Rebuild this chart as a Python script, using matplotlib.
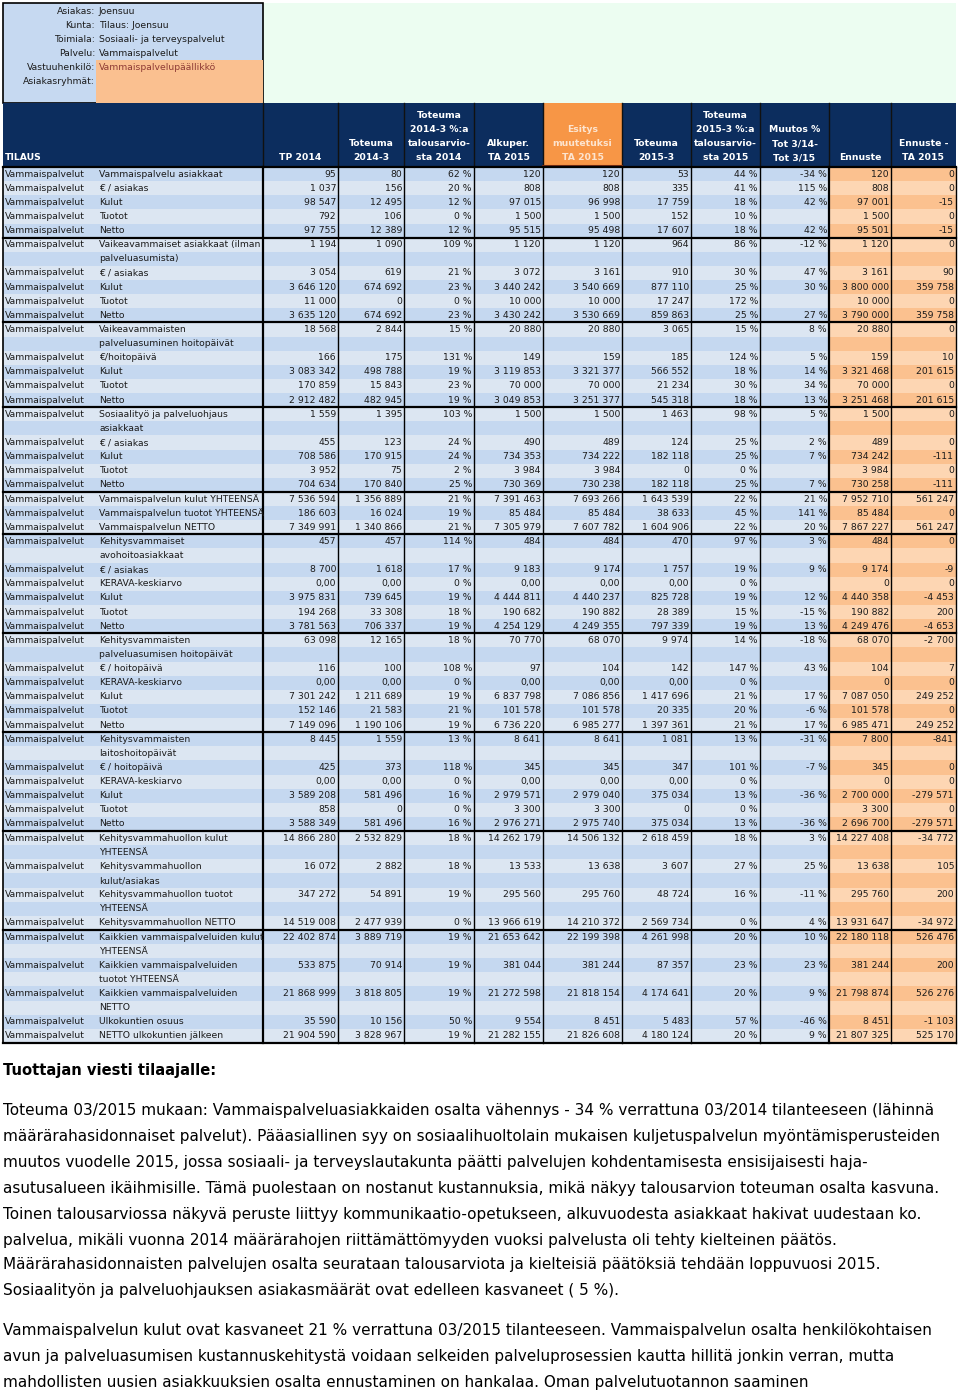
import matplotlib
matplotlib.use("Agg")
import matplotlib.pyplot as plt
from matplotlib.patches import Rectangle

plt.rcParams['font.family'] = ['DejaVu Sans']

# ---- header info ----
info_labels = ["Asiakas:", "Kunta:", "Toimiala:", "Palvelu:", "Vastuuhenkilö:", "Asiakasryhmät:"]
info_values = ["Joensuu", "Tilaus: Joensuu", "Sosiaali- ja terveyspalvelut", "Vammaispalvelut",
               "Vammaispalvelupäällikkö", ""]

col_headers = [
    "TP 2014",
    "Toteuma\n2014-3",
    "Toteuma\n2014-3 %:a\ntalousarvio-\nsta 2014",
    "Alkuper.\nTA 2015",
    "Esitys\nmuutetuksi\nTA 2015",
    "Toteuma\n2015-3",
    "Toteuma\n2015-3 %:a\ntalousarvio-\nsta 2015",
    "Muutos %\nTot 3/14-\nTot 3/15",
    "Ennuste",
    "Ennuste -\nTA 2015",
]

# ---- table data ----
names = [
    "Vammaispalvelu asiakkaat", "€ / asiakas", "Kulut", "Tuotot", "Netto",
    "Vaikeavammaiset asiakkaat (ilman\npalveluasumista)", "€ / asiakas", "Kulut", "Tuotot", "Netto",
    "Vaikeavammaisten\npalveluasuminen hoitopäivät", "€/hoitopäivä", "Kulut", "Tuotot", "Netto",
    "Sosiaalityö ja palveluohjaus\nasiakkaat", "€ / asiakas", "Kulut", "Tuotot", "Netto",
    "Vammaispalvelun kulut YHTEENSÄ", "Vammaispalvelun tuotot YHTEENSÄ", "Vammaispalvelun NETTO",
    "Kehitysvammaiset\navohoitoasiakkaat", "€ / asiakas", "KERAVA-keskiarvo", "Kulut", "Tuotot", "Netto",
    "Kehitysvammaisten\npalveluasumisen hoitopäivät", "€ / hoitopäivä", "KERAVA-keskiarvo", "Kulut", "Tuotot", "Netto",
    "Kehitysvammaisten\nlaitoshoitopäivät", "€ / hoitopäivä", "KERAVA-keskiarvo", "Kulut", "Tuotot", "Netto",
    "Kehitysvammahuollon kulut\nYHTEENSÄ", "Kehitysvammahuollon\nkulut/asiakas",
    "Kehitysvammahuollon tuotot\nYHTEENSÄ", "Kehitysvammahuollon NETTO",
    "Kaikkien vammaispalveluiden kulut\nYHTEENSÄ", "Kaikkien vammaispalveluiden\ntuotot YHTEENSÄ",
    "Kaikkien vammaispalveluiden\nNETTO", "Ulkokuntien osuus", "NETTO ulkokuntien jälkeen",
]
group_sizes = [5, 5, 5, 5, 3, 6, 6, 6, 4, 5]

tp2014 = ["95", "1 037", "98 547", "792", "97 755",
          "1 194", "3 054", "3 646 120", "11 000", "3 635 120",
          "18 568", "166", "3 083 342", "170 859", "2 912 482",
          "1 559", "455", "708 586", "3 952", "704 634",
          "7 536 594", "186 603", "7 349 991",
          "457", "8 700", "0,00", "3 975 831", "194 268", "3 781 563",
          "63 098", "116", "0,00", "7 301 242", "152 146", "7 149 096",
          "8 445", "425", "0,00", "3 589 208", "858", "3 588 349",
          "14 866 280", "16 072", "347 272", "14 519 008",
          "22 402 874", "533 875", "21 868 999", "35 590", "21 904 590"]
tot2014 = ["80", "156", "12 495", "106", "12 389",
           "1 090", "619", "674 692", "0", "674 692",
           "2 844", "175", "498 788", "15 843", "482 945",
           "1 395", "123", "170 915", "75", "170 840",
           "1 356 889", "16 024", "1 340 866",
           "457", "1 618", "0,00", "739 645", "33 308", "706 337",
           "12 165", "100", "0,00", "1 211 689", "21 583", "1 190 106",
           "1 559", "373", "0,00", "581 496", "0", "581 496",
           "2 532 829", "2 882", "54 891", "2 477 939",
           "3 889 719", "70 914", "3 818 805", "10 156", "3 828 967"]
pct2014 = ["62 %", "20 %", "12 %", "0 %", "12 %",
           "109 %", "21 %", "23 %", "0 %", "23 %",
           "15 %", "131 %", "19 %", "23 %", "19 %",
           "103 %", "24 %", "24 %", "2 %", "25 %",
           "21 %", "19 %", "21 %",
           "114 %", "17 %", "0 %", "19 %", "18 %", "19 %",
           "18 %", "108 %", "0 %", "19 %", "21 %", "19 %",
           "13 %", "118 %", "0 %", "16 %", "0 %", "16 %",
           "18 %", "18 %", "19 %", "0 %",
           "19 %", "19 %", "19 %", "50 %", "19 %"]
alk2015 = ["120", "808", "97 015", "1 500", "95 515",
           "1 120", "3 072", "3 440 242", "10 000", "3 430 242",
           "20 880", "149", "3 119 853", "70 000", "3 049 853",
           "1 500", "490", "734 353", "3 984", "730 369",
           "7 391 463", "85 484", "7 305 979",
           "484", "9 183", "0,00", "4 444 811", "190 682", "4 254 129",
           "70 770", "97", "0,00", "6 837 798", "101 578", "6 736 220",
           "8 641", "345", "0,00", "2 979 571", "3 300", "2 976 271",
           "14 262 179", "13 533", "295 560", "13 966 619",
           "21 653 642", "381 044", "21 272 598", "9 554", "21 282 155"]
esi2015 = ["120", "808", "96 998", "1 500", "95 498",
           "1 120", "3 161", "3 540 669", "10 000", "3 530 669",
           "20 880", "159", "3 321 377", "70 000", "3 251 377",
           "1 500", "489", "734 222", "3 984", "730 238",
           "7 693 266", "85 484", "7 607 782",
           "484", "9 174", "0,00", "4 440 237", "190 882", "4 249 355",
           "68 070", "104", "0,00", "7 086 856", "101 578", "6 985 277",
           "8 641", "345", "0,00", "2 979 040", "3 300", "2 975 740",
           "14 506 132", "13 638", "295 760", "14 210 372",
           "22 199 398", "381 244", "21 818 154", "8 451", "21 826 608"]
tot2015 = ["53", "335", "17 759", "152", "17 607",
           "964", "910", "877 110", "17 247", "859 863",
           "3 065", "185", "566 552", "21 234", "545 318",
           "1 463", "124", "182 118", "0", "182 118",
           "1 643 539", "38 633", "1 604 906",
           "470", "1 757", "0,00", "825 728", "28 389", "797 339",
           "9 974", "142", "0,00", "1 417 696", "20 335", "1 397 361",
           "1 081", "347", "0,00", "375 034", "0", "375 034",
           "2 618 459", "3 607", "48 724", "2 569 734",
           "4 261 998", "87 357", "4 174 641", "5 483", "4 180 124"]
pct2015 = ["44 %", "41 %", "18 %", "10 %", "18 %",
           "86 %", "30 %", "25 %", "172 %", "25 %",
           "15 %", "124 %", "18 %", "30 %", "18 %",
           "98 %", "25 %", "25 %", "0 %", "25 %",
           "22 %", "45 %", "22 %",
           "97 %", "19 %", "0 %", "19 %", "15 %", "19 %",
           "14 %", "147 %", "0 %", "21 %", "20 %", "21 %",
           "13 %", "101 %", "0 %", "13 %", "0 %", "13 %",
           "18 %", "27 %", "16 %", "0 %",
           "20 %", "23 %", "20 %", "57 %", "20 %"]
muutos = ["-34 %", "115 %", "42 %", "", "42 %",
          "-12 %", "47 %", "30 %", "", "27 %",
          "8 %", "5 %", "14 %", "34 %", "13 %",
          "5 %", "2 %", "7 %", "", "7 %",
          "21 %", "141 %", "20 %",
          "3 %", "9 %", "", "12 %", "-15 %", "13 %",
          "-18 %", "43 %", "", "17 %", "-6 %", "17 %",
          "-31 %", "-7 %", "", "-36 %", "", "-36 %",
          "3 %", "25 %", "-11 %", "4 %",
          "10 %", "23 %", "9 %", "-46 %", "9 %"]
ennuste = ["120", "808", "97 001", "1 500", "95 501",
           "1 120", "3 161", "3 800 000", "10 000", "3 790 000",
           "20 880", "159", "3 321 468", "70 000", "3 251 468",
           "1 500", "489", "734 242", "3 984", "730 258",
           "7 952 710", "85 484", "7 867 227",
           "484", "9 174", "0", "4 440 358", "190 882", "4 249 476",
           "68 070", "104", "0", "7 087 050", "101 578", "6 985 471",
           "7 800", "345", "0", "2 700 000", "3 300", "2 696 700",
           "14 227 408", "13 638", "295 760", "13 931 647",
           "22 180 118", "381 244", "21 798 874", "8 451", "21 807 325"]
ennuste_ta = ["0", "0", "-15", "0", "-15",
              "0", "90", "359 758", "0", "359 758",
              "0", "10", "201 615", "0", "201 615",
              "0", "0", "-111", "0", "-111",
              "561 247", "0", "561 247",
              "0", "-9", "0", "-4 453", "200", "-4 653",
              "-2 700", "7", "0", "249 252", "0", "249 252",
              "-841", "0", "0", "-279 571", "0", "-279 571",
              "-34 772", "105", "200", "-34 972",
              "526 476", "200", "526 276", "-1 103", "525 170"]

message_title = "Tuottajan viesti tilaajalle:"
message_lines = [
    "Toteuma 03/2015 mukaan: Vammaispalveluasiakkaiden osalta vähennys - 34 % verrattuna 03/2014 tilanteeseen (lähinnä",
    "määrärahasidonnaiset palvelut). Pääasiallinen syy on sosiaalihuoltolain mukaisen kuljetuspalvelun myöntämisperusteiden",
    "muutos vuodelle 2015, jossa sosiaali- ja terveyslautakunta päätti palvelujen kohdentamisesta ensisijaisesti haja-",
    "asutusalueen ikäihmisille. Tämä puolestaan on nostanut kustannuksia, mikä näkyy talousarvion toteuman osalta kasvuna.",
    "Toinen talousarviossa näkyvä peruste liittyy kommunikaatio-opetukseen, alkuvuodesta asiakkaat hakivat uudestaan ko.",
    "palvelua, mikäli vuonna 2014 määrärahojen riittämättömyyden vuoksi palvelusta oli tehty kielteinen päätös.",
    "Määrärahasidonnaisten palvelujen osalta seurataan talousarviota ja kielteisiä päätöksiä tehdään loppuvuosi 2015.",
    "Sosiaalityön ja palveluohjauksen asiakasmäärät ovat edelleen kasvaneet ( 5 %).",
    "",
    "Vammaispalvelun kulut ovat kasvaneet 21 % verrattuna 03/2015 tilanteeseen. Vammaispalvelun osalta henkilökohtaisen",
    "avun ja palveluasumisen kustannuskehitystä voidaan selkeiden palveluprosessien kautta hillitä jonkin verran, mutta",
    "mahdollisten uusien asiakkuuksien osalta ennustaminen on hankalaa. Oman palvelutuotannon saaminen",
]

# ---- layout / style ----
edges = [3, 263, 338, 404, 474, 543, 622, 691, 760, 829, 891, 956]
navy = "#0c2d5e"
blue_a, blue_b = "#c5d8f0", "#dce6f2"
org_a, org_b = "#fbc18f", "#fdd6b3"
txt = "#1b1b1b"
fs = 6.7

fig = plt.figure(figsize=(9.6, 13.92), dpi=100)
ax = fig.add_axes([0, 0, 1, 1])
ax.set_xlim(0, 960)
ax.set_ylim(1392, 0)
ax.axis("off")

# info box
ax.add_patch(Rectangle((263, 3), 693, 100, color="#ecfdf1", lw=0))
ax.add_patch(Rectangle((3, 3), 260, 100, facecolor="#c6d9f1", edgecolor="black", lw=1.2))
ax.add_patch(Rectangle((96, 60), 167, 43, color="#fac090", lw=0))
for i, (lab, val) in enumerate(zip(info_labels, info_values)):
    y = 11 + 14 * i
    ax.text(95, y, lab, ha="right", va="center", fontsize=fs, color=txt)
    c = "#8e3b35" if lab.startswith("Vastuu") else txt
    ax.text(99, y, val, ha="left", va="center", fontsize=fs, color=c)

# header row
top, bot = 103, 167
ax.add_patch(Rectangle((3, top), 953, bot - top, color=navy, lw=0))
ax.add_patch(Rectangle((edges[5], top), edges[6] - edges[5], bot - top, color="#f79646", lw=0))
ax.text(5, 158, "TILAUS", ha="left", va="center", fontsize=fs, color="white", fontweight="bold")
for j, h in enumerate(col_headers):
    xc = (edges[j + 1] + edges[j + 2]) / 2
    lines = h.split("\n")
    c = "#fde4cf" if j == 4 else "white"
    for k, ln in enumerate(reversed(lines)):
        ax.text(xc, 158 - 14 * k, ln, ha="center", va="center", fontsize=fs,
                color=c, fontweight="bold")
for x in edges[1:-1]:
    ax.plot([x, x], [top, bot], color="#111111", lw=1.0)
ax.plot([edges[5], edges[6]], [bot - 1, bot - 1], color="#7a2e12", lw=1.5)

# data rows
nlines = [n.count("\n") + 1 for n in names]
total = sum(nlines)
lh = (1043 - bot) / total
columns = [tp2014, tot2014, pct2014, alk2015, esi2015, tot2015, pct2015, muutos, ennuste, ennuste_ta]

# background bands per line
for li in range(total):
    y0 = bot + li * lh
    ca = blue_a if li % 2 == 0 else blue_b
    ax.add_patch(Rectangle((3, y0), edges[9] - 3, lh, color=ca, lw=0))
    oa = org_a if li % 2 == 0 else org_b
    ax.add_patch(Rectangle((edges[9], y0), edges[11] - edges[9], lh, color=oa, lw=0))

line = 0
row_top = []
for i, name in enumerate(names):
    y0 = bot + line * lh
    row_top.append(y0)
    yc = y0 + lh / 2
    ax.text(5, yc, "Vammaispalvelut", ha="left", va="center", fontsize=fs, color=txt)
    for k, part in enumerate(name.split("\n")):
        ax.text(99, yc + k * lh, part, ha="left", va="center", fontsize=fs, color=txt)
    for j, col in enumerate(columns):
        ax.text(edges[j + 2] - 2, yc, col[i], ha="right", va="center", fontsize=fs, color=txt)
    line += nlines[i]

# group separators
start = 0
for g in group_sizes:
    ax.plot([3, 956], [row_top[start], row_top[start]], color="black", lw=1.6)
    start += g
ax.plot([3, 956], [1043, 1043], color="black", lw=1.6)
for x in edges[1:]:
    ax.plot([x, x], [bot, 1043], color="black", lw=1.6 if x in (263, 829) else 1.0)
ax.plot([3, 3], [bot, 1043], color="black", lw=1.2)

# message
ax.text(3, 1071, message_title, ha="left", va="center", fontsize=10.6,
        fontweight="bold", color="black")
ys = [1111, 1137, 1163, 1189, 1214, 1240, 1265, 1291, None, 1331, 1357, 1382]
for y, ln in zip(ys, message_lines):
    if y is None:
        continue
    ax.text(3, y, ln, ha="left", va="center", fontsize=11.0, color="black")

fig.savefig("out.png", dpi=100)
